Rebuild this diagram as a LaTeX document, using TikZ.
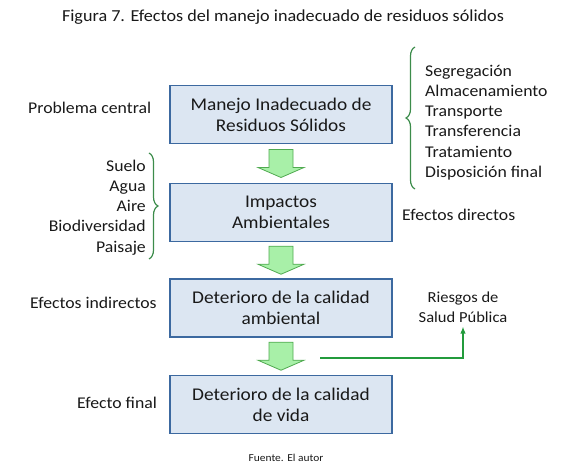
\documentclass[tikz,border=0pt]{standalone}
\usepackage{fontspec}
\setmainfont{Carlito}[FakeStretch=1.08]
\usetikzlibrary{calc,arrows.meta,decorations.pathreplacing}
\begin{document}
\begin{tikzpicture}[x=1pt, y=-1pt, box/.style={draw=bxEdge, fill=bxFill, line width=1.5pt, minimum width=222pt, minimum height=58pt, align=center, inner sep=0pt, font=\fontsize{17.9}{21}\selectfont}, tag/.style={font=\fontsize{16.4}{20.2}\selectfont, inner sep=0pt}, brace/.style={decorate, decoration={brace, amplitude=9pt}, line width=1.2pt, brGreen}, fat/.style={fill=arFill, draw=arEdge, line width=0.8pt, line join=miter}, link/.style={-{Latex[length=7pt,width=5.5pt]}, line width=1.3pt, lnGreen}, every node/.style={text=txInk}, pics/flecha/.style={code={\draw[fat] (-12,-14) -- (12,-14) -- (12,4) -- (23,4) -- (0,14) -- (-23,4) -- (-12,4) -- cycle;}}]
\definecolor{txInk}{rgb}{0.10,0.10,0.10}
\definecolor{bxFill}{RGB}{220,230,242}
\definecolor{bxEdge}{RGB}{60,105,160}
\definecolor{arFill}{RGB}{168,240,168}
\definecolor{arEdge}{RGB}{80,170,80}
\definecolor{brGreen}{RGB}{60,140,75}
\definecolor{lnGreen}{RGB}{35,155,60}
\useasboundingbox (0,0) rectangle (571,473);
\node[font=\fontsize{16.8}{20}\selectfont] (titulo) at (283,17) {Figura 7. Efectos del manejo inadecuado de residuos sólidos};
\node[box] (manejo) at (281,114.5) {Manejo Inadecuado de\\Residuos Sólidos};
\node[box] (impactos) at (281,212.5) {Impactos\\Ambientales};
\node[box] (ambiental) at (281,308) {Deterioro de la calidad\\ambiental};
\node[box] (vida) at (281,404.5) {Deterioro de la calidad\\de vida};
\pic at ($(manejo.south)!0.5!(impactos.north)$) {flecha};
\pic at ($(impactos.south)!0.5!(ambiental.north)$) {flecha};
\pic at ($(ambiental.south)!0.5!(vida.north)$) {flecha};
\node[tag, anchor=west] (central) at (28,108) {Problema central};
\node[tag, anchor=west] (directos) at (402,215) {Efectos directos};
\node[tag, anchor=west] (indirectos) at (30,303) {Efectos indirectos};
\node[tag, anchor=west] (final) at (77,403) {Efecto final};
\node[tag, anchor=east, align=right] (medios) at (146,207.5) {Suelo\\Agua\\Aire\\Biodiversidad\\Paisaje};
\node[tag, anchor=west, align=left] (etapas) at (425,122.5) {Segregación\\Almacenamiento\\Transporte\\Transferencia\\Tratamiento\\Disposición final};
\draw[brace] (149,153) -- (149,259);
\draw[brace] (415,189) -- (415,47);
\node[tag, align=center, font=\fontsize{15.3}{20}\selectfont] (riesgos) at (463,307) {Riesgos de\\Salud Pública};
\coordinate (salida) at (320,358);
\draw[link] (salida) -| ($(riesgos.south)+(0,4)$);
\node[font=\fontsize{10.6}{13}\selectfont] (fuente) at (286,458) {Fuente. El autor};
\end{tikzpicture}
\end{document}
